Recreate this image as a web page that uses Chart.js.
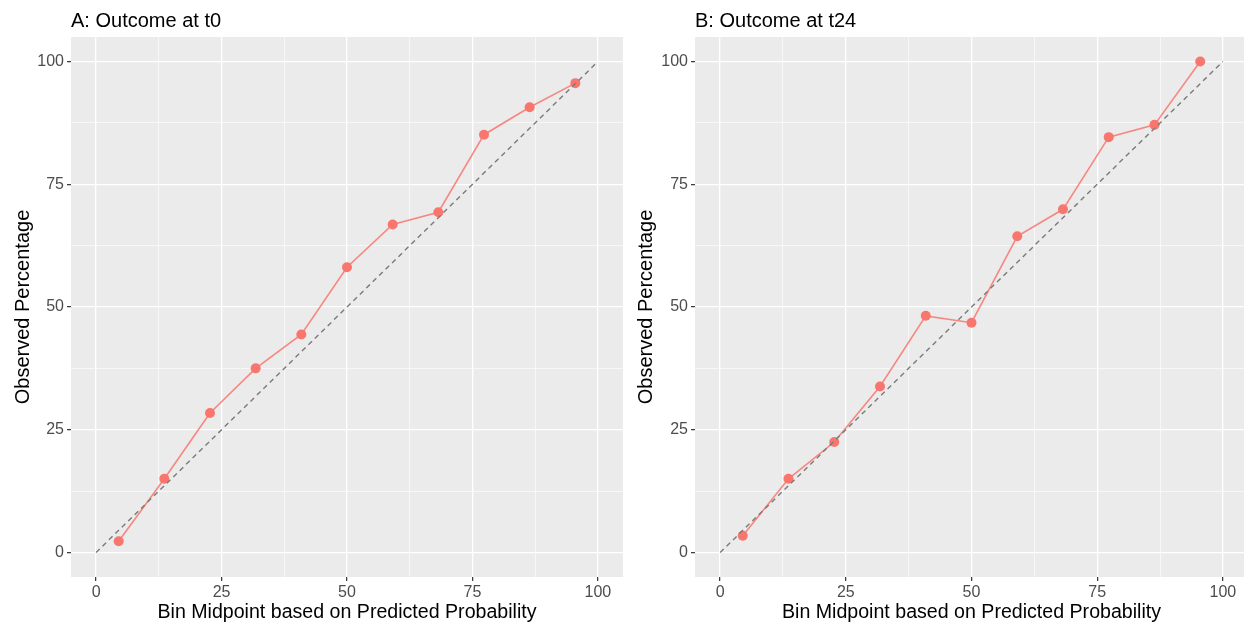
<!DOCTYPE html>
<html>
<head>
<meta charset="utf-8">
<script src="https://cdn.jsdelivr.net/npm/chart.js@4/dist/chart.umd.min.js"></script>
<style>
  body { margin: 0; background: #fff; overflow: hidden; }
  #wrap { position: relative; width: 1244px; height: 629px; overflow: hidden; }
  canvas { position: absolute; top: 0; }
</style>
</head>
<body>
<div id="wrap">
  <canvas id="panelA" width="630" height="629" style="left:0"></canvas>
  <canvas id="panelB" width="623" height="629" style="left:630px"></canvas>
</div>
<script>
// bin midpoints (x) and observed percentages (y)
const binMid = [4.5, 13.6, 22.7, 31.8, 40.9, 50, 59.1, 68.2, 77.3, 86.4, 95.5];
const obsT0 = [2.3, 15.0, 28.4, 37.5, 44.4, 58.1, 66.8, 69.3, 85.1, 90.7, 95.6];
const obsT24 = [3.4, 15.0, 22.5, 33.8, 48.2, 46.8, 64.4, 69.9, 84.6, 87.1, 100];
const refLine = [0, 100];
const majorTicks = [0, 25, 50, 75, 100];
const gridVals = [0, 12.5, 25, 37.5, 50, 62.5, 75, 87.5, 100];

const FONT = "'Liberation Sans', Arial, Helvetica, sans-serif";

const panelBg = {
  id: "panelBg",
  beforeDraw(chart) {
    const a = chart.chartArea;
    const ctx = chart.ctx;
    ctx.save();
    ctx.fillStyle = "#EBEBEB";
    ctx.fillRect(a.left, a.top, a.right - a.left, a.bottom - a.top);
    ctx.restore();
  }
};

const panelTitle = {
  id: "panelTitle",
  afterDraw(chart, args, opts) {
    const ctx = chart.ctx;
    ctx.save();
    ctx.font = "20px " + FONT;
    ctx.fillStyle = "#000";
    ctx.textBaseline = "alphabetic";
    ctx.fillText(opts.text, chart.chartArea.left, 27);
    ctx.restore();
  }
};

function isMajor(v) {
  return majorTicks.includes(v);
}

function axis(extra) {
  return Object.assign({
    type: "linear",
    min: -5,
    max: 105,
    afterBuildTicks: (scale) => { scale.ticks = gridVals.map(v => ({ value: v })); },
    border: { display: false },
    grid: {
      color: "#FFFFFF",
      lineWidth: (c) => isMajor(c.tick.value) ? 1.3 : 0.6,
      drawTicks: true,
      tickLength: 4,
      tickWidth: 1.2,
      tickColor: (c) => isMajor(c.tick.value) ? "#333333" : "rgba(0,0,0,0)"
    },
    ticks: {
      autoSkip: false,
      maxRotation: 0,
      color: "#4D4D4D",
      font: { family: FONT, size: 16 },
      padding: 3,
      callback: (v) => isMajor(v) ? String(v) : ""
    }
  }, extra);
}

function makePanel(id, title, values, yAxisWidth, yTitlePad, padRight) {
  const pts = binMid.map((x, i) => ({ x: x, y: values[i] }));
  const diag = refLine.map(v => ({ x: v, y: v }));
  new Chart(document.getElementById(id), {
    type: "scatter",
    data: {
      datasets: [
        {
          data: diag,
          showLine: true,
          borderColor: "#7A7A7A",
          borderWidth: 1.4,
          borderDash: [5, 4],
          pointRadius: 0
        },
        {
          data: pts,
          showLine: true,
          borderColor: "rgba(248,118,109,0.85)",
          borderWidth: 1.6,
          pointRadius: 5,
          pointBackgroundColor: "#F8766D",
          pointBorderWidth: 0
        }
      ]
    },
    options: {
      responsive: false,
      animation: false,
      devicePixelRatio: 1,
      layout: { padding: { left: 0, top: 37, right: padRight, bottom: 0 } },
      plugins: {
        legend: { display: false },
        tooltip: { enabled: false },
        panelTitle: { text: title }
      },
      scales: {
        x: axis({
          position: "bottom",
          afterFit: (s) => { s.height = 52; s.paddingLeft = 0; s.paddingRight = 0; },
          ticks: {
            autoSkip: false,
            maxRotation: 0,
            color: "#4D4D4D",
            font: { family: FONT, size: 16 },
            padding: 2,
            callback: (v) => isMajor(v) ? String(v) : ""
          },
          title: {
            display: true,
            text: "Bin Midpoint based on Predicted Probability",
            color: "#000",
            font: { family: FONT, size: 19.6 },
            padding: { top: 0, bottom: 5 }
          }
        }),
        y: axis({
          position: "left",
          afterFit: (s) => { s.width = yAxisWidth; },
          title: {
            display: true,
            text: "Observed Percentage",
            color: "#000",
            font: { family: FONT, size: 20 },
            padding: { top: yTitlePad, bottom: 0 }
          }
        })
      }
    },
    plugins: [panelBg, panelTitle]
  });
}

makePanel("panelA", "A: Outcome at t0", obsT0, 71, 11, 7);
makePanel("panelB", "B: Outcome at t24", obsT24, 65, 4, 0);
</script>
</body>
</html>
